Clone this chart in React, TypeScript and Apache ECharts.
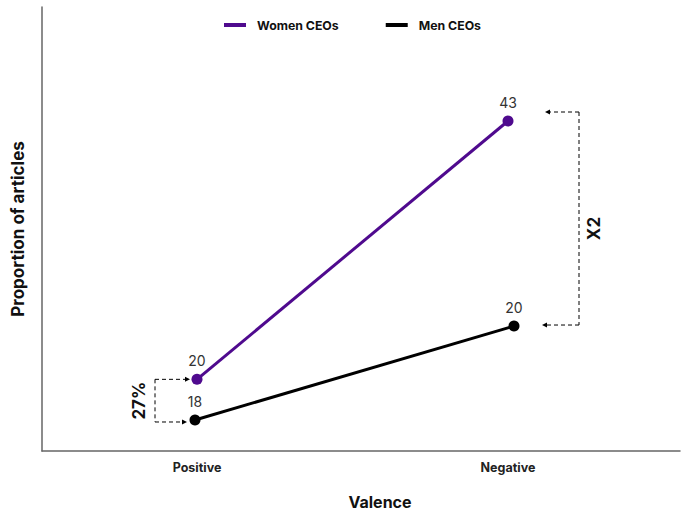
import React, { useEffect, useRef } from "react";
import * as echarts from "echarts";

const categories = ["Positive", "Negative"];
const seriesNames = ["Women CEOs", "Men CEOs"];
const womenValues = [20, 43];
const menValues = [18, 20];
const gapLabels = ["27%", "X2"];

const FONT = "Inter, 'Noto Sans', sans-serif";
const PURPLE = "#4f0a8e";
const BLACK = "#000000";

export default function App() {
  const ref = useRef<HTMLDivElement>(null);

  useEffect(() => {
    if (!ref.current) return;
    const chart = echarts.init(ref.current, undefined, { renderer: "svg" });

    const lineSeries = (
      name: string,
      data: number[],
      color: string,
      axis: number
    ) => ({
      name,
      type: "line",
      xAxisIndex: axis,
      yAxisIndex: axis,
      data,
      color,
      lineStyle: { color, width: 3 },
      itemStyle: { color },
      symbol: "circle",
      symbolSize: 11,
      label: {
        show: true,
        position: "top",
        distance: 6,
        color: "#333",
        fontSize: 14,
        fontFamily: FONT,
      },
    });

    chart.setOption({
      animation: false,
      backgroundColor: "#ffffff",
      textStyle: { fontFamily: FONT },
      legend: {
        data: seriesNames,
        left: 219,
        top: 14,
        icon: "rect",
        itemWidth: 22,
        itemHeight: 4,
        itemGap: 47,
        textStyle: {
          fontFamily: FONT,
          fontWeight: "bold",
          fontSize: 12.3,
          color: "#111",
          padding: [0, 0, 0, 6],
        },
      },
      grid: [
        { left: 42, top: 7, width: 638, height: 444 },
        { left: 41.5, top: 7, width: 622, height: 444 },
        { left: 35.5, top: 7, width: 638, height: 444 },
      ],
      xAxis: [
        {
          gridIndex: 0,
          type: "value",
          min: 0,
          max: 1,
          axisLine: { show: true, lineStyle: { color: "#666", width: 1.5 } },
          axisTick: { show: false },
          axisLabel: { show: false },
          splitLine: { show: false },
        },
        {
          gridIndex: 1,
          type: "category",
          data: categories,
          axisLine: { show: false },
          axisTick: { show: false },
          splitLine: { show: false },
          axisLabel: {
            fontFamily: FONT,
            fontWeight: "bold",
            fontSize: 12.5,
            color: "#222",
            margin: 10,
          },
        },
        { gridIndex: 2, type: "category", data: categories, show: false },
      ],
      yAxis: [
        {
          gridIndex: 0,
          type: "value",
          min: 0,
          max: 1,
          name: "Proportion of articles",
          nameLocation: "middle",
          nameGap: 16,
          nameTextStyle: {
            fontFamily: FONT,
            fontWeight: "bold",
            fontSize: 17,
            color: "#111",
          },
          axisLine: { show: true, lineStyle: { color: "#666", width: 1.5 } },
          axisTick: { show: false },
          axisLabel: { show: false },
          splitLine: { show: false },
        },
        { gridIndex: 1, type: "value", min: 13.62, max: 53.15, show: false },
        { gridIndex: 2, type: "value", min: 17.34, max: 26.79, show: false },
      ],
      series: [
        lineSeries(seriesNames[0], womenValues, PURPLE, 1),
        lineSeries(seriesNames[1], menValues, BLACK, 2),
      ],
    });

    // Bracket annotations placed relative to the plotted points
    const wp = womenValues.map(
      (v, i) => chart.convertToPixel({ seriesIndex: 0 }, [i, v]) as number[]
    );
    const mp = menValues.map(
      (v, i) => chart.convertToPixel({ seriesIndex: 1 }, [i, v]) as number[]
    );

    const dash = { stroke: "#000", lineWidth: 1, lineDash: [4, 3] };
    const seg = (x1: number, y1: number, x2: number, y2: number) => ({
      type: "line",
      shape: { x1, y1, x2, y2 },
      style: dash,
      silent: true,
    });
    const arrow = (tx: number, y: number, dir: 1 | -1) => ({
      type: "polygon",
      shape: {
        points: [
          [tx, y],
          [tx - dir * 5, y - 2.5],
          [tx - dir * 5, y + 2.5],
        ],
      },
      style: { fill: "#000" },
      silent: true,
    });
    const vText = (text: string, x: number, y: number) => ({
      type: "text",
      x,
      y,
      rotation: Math.PI / 2,
      style: {
        text,
        fontFamily: FONT,
        fontWeight: "bold",
        fontSize: 17,
        fill: "#111",
        align: "center",
        verticalAlign: "middle",
      },
      silent: true,
    });

    // Left bracket: positive valence
    const xL = wp[0][0] - 42;
    const lTop = wp[0][1];
    const lBot = mp[0][1] + 2;
    const lTipTop = wp[0][0] - 7;
    const lTipBot = mp[0][0] - 8;

    // Right bracket: negative valence
    const xR = wp[1][0] + 71;
    const rTop = wp[1][1] - 9;
    const rBot = mp[1][1] - 1;
    const rTipTop = wp[1][0] + 37;
    const rTipBot = mp[1][0] + 28;

    chart.setOption({
      graphic: [
        seg(xL, lTop, xL, lBot),
        seg(xL, lTop, lTipTop - 5, lTop),
        seg(xL, lBot, lTipBot - 5, lBot),
        arrow(lTipTop, lTop, 1),
        arrow(lTipBot, lBot, 1),
        vText(gapLabels[0], xL - 16, (lTop + lBot) / 2),
        seg(xR, rTop, xR, rBot),
        seg(xR, rTop, rTipTop + 5, rTop),
        seg(xR, rBot, rTipBot + 5, rBot),
        arrow(rTipTop, rTop, -1),
        arrow(rTipBot, rBot, -1),
        vText(gapLabels[1], xR + 15, (rTop + rBot) / 2 + 10),
        {
          type: "text",
          x: 380,
          y: 494,
          style: {
            text: "Valence",
            fontFamily: FONT,
            fontWeight: "bold",
            fontSize: 16,
            fill: "#111",
            align: "center",
            verticalAlign: "top",
          },
          silent: true,
        },
      ],
    });

    return () => chart.dispose();
  }, []);

  return (
    <div
      ref={ref}
      style={{ position: "absolute", left: 0, top: 0, width: 681, height: 512 }}
    />
  );
}
